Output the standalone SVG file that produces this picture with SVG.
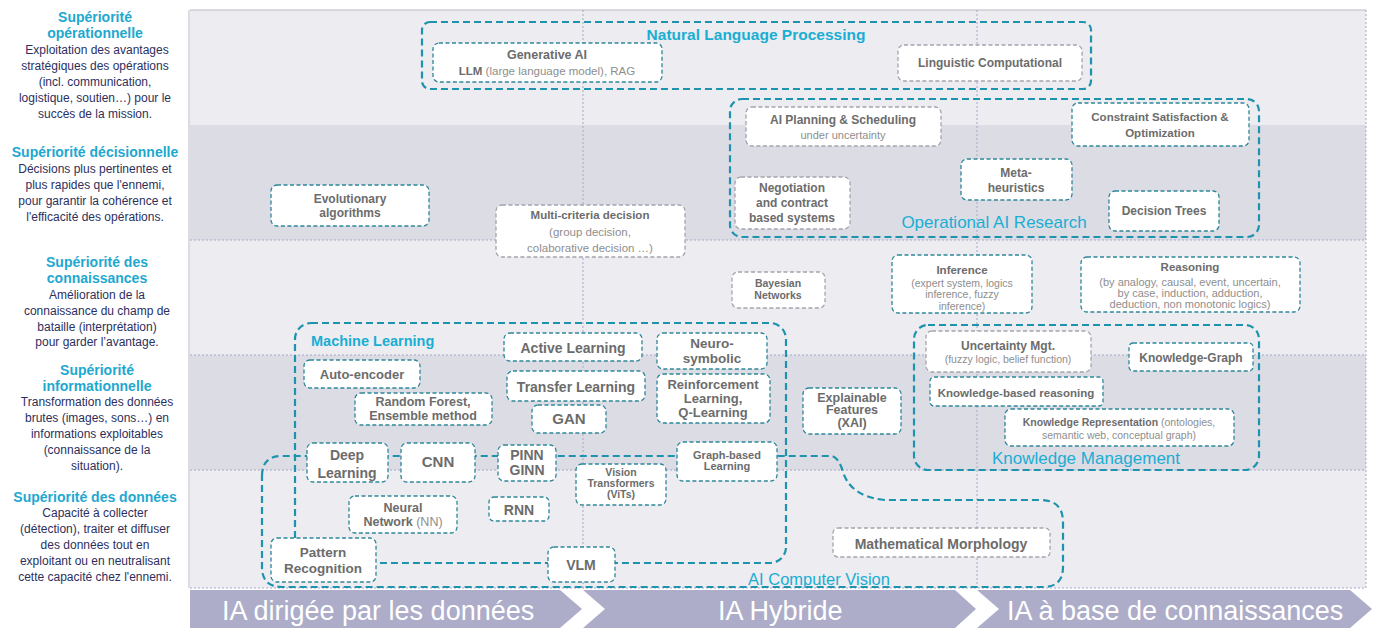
<svg xmlns="http://www.w3.org/2000/svg" width="1375" height="628" viewBox="0 0 1375 628">
<style>
text{font-family:"Liberation Sans",Arial,sans-serif}
.lh{fill:#1ea8cf;font-weight:bold;font-size:14px;text-anchor:middle}
.lb{fill:#2c2f5e;font-size:12px;text-anchor:middle}
.grid{stroke:#a7a7c9;stroke-width:1;stroke-dasharray:2 2;fill:none}
.c{fill:none;stroke:#1d93ad;stroke-width:2.2;stroke-dasharray:7 4}
.b{fill:#fff;stroke:#2e8699;stroke-width:1.3;stroke-dasharray:4 2.5}
.g{fill:#fff;stroke:#a4a4ae;stroke-width:1.3;stroke-dasharray:4 2.5}
.t{fill:#6c6c6c;font-weight:bold;text-anchor:middle}
.s{fill:#8e8e8e;font-weight:normal;text-anchor:middle}
.ct{fill:#1aaed3;text-anchor:middle}
.cts{fill:#1aaed3;text-anchor:start}
.chev{fill:#adadc9}
.ch{fill:#fff;font-size:27px}
</style>
<rect width="1375" height="628" fill="#ffffff"/>
<g id="background">
<rect x="190" y="10" width="1176" height="115" fill="#ececf1"/>
<rect x="190" y="125" width="1176" height="115" fill="#dcdce5"/>
<rect x="190" y="240" width="1176" height="115" fill="#ececf1"/>
<rect x="190" y="355" width="1176" height="115" fill="#dcdce5"/>
<rect x="190" y="470" width="1176" height="118" fill="#ececf1"/>
<line x1="190" y1="10" x2="1366" y2="10" stroke="#b9b9c2" stroke-width="1"/>
<line x1="189" y1="10" x2="189" y2="588" stroke="#b9b9c2" stroke-width="1"/>
<line x1="1366" y1="10" x2="1366" y2="588" class="grid"/>
<line x1="190" y1="240" x2="1366" y2="240" class="grid"/>
<line x1="190" y1="355" x2="1366" y2="355" class="grid"/>
<line x1="190" y1="470" x2="1366" y2="470" class="grid"/>
<line x1="190" y1="588" x2="1366" y2="588" class="grid"/>
<line x1="583" y1="10" x2="583" y2="588" class="grid"/>
<line x1="977" y1="10" x2="977" y2="588" class="grid"/>
</g>
<g id="left-labels">
<text class="lh" x="95" y="22">Supériorité</text>
<text class="lh" x="95" y="38">opérationnelle</text>
<text class="lb" x="97" y="54">Exploitation des avantages</text>
<text class="lb" x="95" y="70">stratégiques des opérations</text>
<text class="lb" x="95" y="86">(incl. communication,</text>
<text class="lb" x="95" y="102">logistique, soutien…) pour le</text>
<text class="lb" x="95" y="118">succès de la mission.</text>
<text class="lh" x="95" y="157">Supériorité décisionnelle</text>
<text class="lb" x="95" y="173">Décisions plus pertinentes et</text>
<text class="lb" x="95" y="189">plus rapides que l'ennemi,</text>
<text class="lb" x="95" y="205">pour garantir la cohérence et</text>
<text class="lb" x="95" y="221">l'efficacité des opérations.</text>
<text class="lh" x="97" y="267">Supériorité des</text>
<text class="lh" x="97" y="283">connaissances</text>
<text class="lb" x="97" y="299">Amélioration de la</text>
<text class="lb" x="97" y="315">connaissance du champ de</text>
<text class="lb" x="97" y="331">bataille (interprétation)</text>
<text class="lb" x="97" y="346">pour garder l’avantage.</text>
<text class="lh" x="97" y="375">Supériorité</text>
<text class="lh" x="97" y="391">informationnelle</text>
<text class="lb" x="97" y="406">Transformation des données</text>
<text class="lb" x="97" y="422">brutes (images, sons…) en</text>
<text class="lb" x="97" y="438">informations exploitables</text>
<text class="lb" x="97" y="454">(connaissance de la</text>
<text class="lb" x="97" y="470">situation).</text>
<text class="lh" x="95" y="502">Supériorité des données</text>
<text class="lb" x="95" y="517">Capacité à collecter</text>
<text class="lb" x="95" y="533">(détection), traiter et diffuser</text>
<text class="lb" x="95" y="549">des données tout en</text>
<text class="lb" x="95" y="565">exploitant ou en neutralisant</text>
<text class="lb" x="95" y="581">cette capacité chez l'ennemi.</text>
</g>
<g id="containers">
<rect id="nlp" class="c" x="422" y="22" width="669" height="67" rx="8"/>
<rect id="oper" class="c" x="730" y="99" width="529" height="138" rx="12"/>
<rect id="km" class="c" x="914" y="325" width="345" height="145" rx="14"/>
<rect id="ml" class="c" x="295" y="323" width="491" height="240" rx="16"/>
<path id="cv" class="c" d="M262,476 Q262,456 282,456 L832,456 Q839,458 843,472 Q851,497 885,500 L1040,500 Q1063,500 1063,522 L1063,567 Q1063,587 1043,587 L282,587 Q262,587 262,567 Z"/>
</g>
<g id="nodes">
<g id="n-genai"><rect class="b" x="433" y="43" width="229" height="39" rx="6"/><text class="t" x="547" y="59" font-size="12.5">Generative AI</text><text class="s" x="547" y="75" font-size="11.5"><tspan font-weight="bold" fill="#6c6c6c">LLM</tspan> (large language model), RAG</text></g>
<g id="n-ling"><rect class="g" x="898" y="45" width="184" height="36" rx="6"/><text class="t" x="990" y="67" font-size="12">Linguistic Computational</text></g>
<g id="n-plan"><rect class="g" x="746" y="107" width="195" height="39" rx="6"/><text class="t" x="843" y="124" font-size="12">AI Planning &amp; Scheduling</text><text class="s" x="843" y="139" font-size="11">under uncertainty</text></g>
<g id="n-csp"><rect class="b" x="1072" y="103" width="177" height="43" rx="6"/><text class="t" x="1160" y="121" font-size="11.5">Constraint Satisfaction &amp;</text><text class="t" x="1160" y="137" font-size="11.5">Optimization</text></g>
<g id="n-meta"><rect class="b" x="961" y="159" width="111" height="41" rx="6"/><text class="t" x="1016" y="177" font-size="12">Meta-</text><text class="t" x="1016" y="192" font-size="12">heuristics</text></g>
<g id="n-nego"><rect class="g" x="735" y="177" width="115" height="52" rx="6"/><text class="t" x="792" y="192" font-size="12">Negotiation</text><text class="t" x="792" y="207" font-size="12">and contract</text><text class="t" x="792" y="222" font-size="12">based systems</text></g>
<g id="n-dtree"><rect class="b" x="1109" y="191" width="110" height="40" rx="6"/><text class="t" x="1164" y="215" font-size="12">Decision Trees</text></g>
<g id="n-evo"><rect class="b" x="271" y="185" width="158" height="41" rx="6"/><text class="t" x="350" y="203" font-size="12">Evolutionary</text><text class="t" x="350" y="217" font-size="12">algorithms</text></g>
<g id="n-mcd"><rect class="g" x="496" y="205" width="189" height="52" rx="6"/><text class="t" x="590" y="219" font-size="11.5">Multi-criteria decision</text><text class="s" x="590" y="236" font-size="11.5">(group decision,</text><text class="s" x="590" y="252" font-size="11.5">colaborative decision …)</text></g>
<g id="n-bayes"><rect class="g" x="732" y="272" width="93" height="36" rx="6"/><text class="t" x="778" y="287" font-size="10.5">Bayesian</text><text class="t" x="778" y="299" font-size="10.5">Networks</text></g>
<g id="n-inf"><rect class="b" x="892" y="255" width="140" height="58" rx="6"/><text class="t" x="962" y="274" font-size="11.5">Inference</text><text class="s" x="962" y="287" font-size="10.5">(expert system, logics</text><text class="s" x="962" y="298" font-size="10.5">inference, fuzzy</text><text class="s" x="962" y="310" font-size="10.5">inference)</text></g>
<g id="n-reas"><rect class="b" x="1081" y="257" width="219" height="55" rx="6"/><text class="t" x="1190" y="271" font-size="11.5">Reasoning</text><text class="s" x="1190" y="286" font-size="11">(by analogy, causal, event, uncertain,</text><text class="s" x="1190" y="297" font-size="11">by case, induction, adduction,</text><text class="s" x="1190" y="308" font-size="11">deduction, non monotonic logics)</text></g>
<g id="n-unc"><rect class="g" x="926" y="331" width="165" height="41" rx="6"/><text class="t" x="1008" y="350" font-size="12">Uncertainty Mgt.</text><text class="s" x="1008" y="363" font-size="10.5">(fuzzy logic, belief function)</text></g>
<g id="n-kg"><rect class="b" x="1129" y="343" width="124" height="28" rx="4"/><text class="t" x="1191" y="362" font-size="12">Knowledge-Graph</text></g>
<g id="n-kbr"><rect class="b" x="930" y="377" width="173" height="29" rx="4"/><text class="t" x="1016" y="397" font-size="11.5">Knowledge-based reasoning</text></g>
<g id="n-krep"><rect class="b" x="1005" y="409" width="229" height="37" rx="6"/><text class="s" x="1119" y="426" font-size="10.5"><tspan font-weight="bold" fill="#6c6c6c">Knowledge Representation</tspan> (ontologies,</text><text class="s" x="1119" y="439" font-size="10.5">semantic web, conceptual graph)</text></g>
<g id="n-xai"><rect class="b" x="803" y="388" width="98" height="46" rx="6"/><text class="t" x="852" y="402" font-size="12.5">Explainable</text><text class="t" x="852" y="414" font-size="12.5">Features</text><text class="t" x="852" y="427" font-size="12.5">(XAI)</text></g>
<g id="n-active"><rect class="b" x="504" y="333" width="138" height="28" rx="6"/><text class="t" x="573" y="353" font-size="14">Active Learning</text></g>
<g id="n-neuro"><rect class="b" x="657" y="333" width="110" height="36" rx="6"/><text class="t" x="712" y="348" font-size="13.5">Neuro-</text><text class="t" x="712" y="363" font-size="13.5">symbolic</text></g>
<g id="n-auto"><rect class="b" x="304" y="360" width="116" height="28" rx="6"/><text class="t" x="362" y="379" font-size="13">Auto-encoder</text></g>
<g id="n-rf"><rect class="b" x="355" y="393" width="137" height="32" rx="6"/><text class="t" x="423" y="406" font-size="12.5">Random Forest,</text><text class="t" x="423" y="420" font-size="12.5">Ensemble method</text></g>
<g id="n-transfer"><rect class="b" x="507" y="371" width="138" height="30" rx="6"/><text class="t" x="576" y="392" font-size="14">Transfer Learning</text></g>
<g id="n-gan"><rect class="b" x="532" y="405" width="74" height="28" rx="6"/><text class="t" x="569" y="424" font-size="15">GAN</text></g>
<g id="n-rl"><rect class="b" x="657" y="374" width="113" height="49" rx="6"/><text class="t" x="713" y="389" font-size="13">Reinforcement</text><text class="t" x="713" y="403" font-size="13">Learning,</text><text class="t" x="713" y="417" font-size="13">Q-Learning</text></g>
<g id="n-graph"><rect class="b" x="677" y="442" width="100" height="39" rx="6"/><text class="t" x="727" y="459" font-size="11">Graph-based</text><text class="t" x="727" y="470" font-size="11">Learning</text></g>
<g id="n-deep"><rect class="b" x="307" y="443" width="81" height="39" rx="6"/><text class="t" x="347" y="460" font-size="14">Deep</text><text class="t" x="347" y="478" font-size="14">Learning</text></g>
<g id="n-cnn"><rect class="b" x="401" y="443" width="74" height="39" rx="6"/><text class="t" x="438" y="467" font-size="15">CNN</text></g>
<g id="n-pinn"><rect class="b" x="498" y="445" width="58" height="36" rx="6"/><text class="t" x="527" y="460" font-size="14">PINN</text><text class="t" x="527" y="475" font-size="14">GINN</text></g>
<g id="n-vit"><rect class="b" x="576" y="464" width="90" height="41" rx="6"/><text class="t" x="621" y="476" font-size="10.5">Vision</text><text class="t" x="621" y="487" font-size="10.5">Transformers</text><text class="t" x="621" y="498" font-size="10.5">(ViTs)</text></g>
<g id="n-nn"><rect class="b" x="349" y="496" width="108" height="37" rx="6"/><text class="t" x="403" y="512" font-size="12.5">Neural</text><text class="t" x="403" y="526" font-size="12.5">Network <tspan font-weight="normal" fill="#8e8e8e">(NN)</tspan></text></g>
<g id="n-rnn"><rect class="b" x="489" y="497" width="60" height="24" rx="5"/><text class="t" x="519" y="515" font-size="14">RNN</text></g>
<g id="n-pattern"><rect class="b" x="271" y="538" width="105" height="44" rx="6"/><text class="t" x="323" y="557" font-size="13.5">Pattern</text><text class="t" x="323" y="573" font-size="13.5">Recognition</text></g>
<g id="n-vlm"><rect class="b" x="548" y="547" width="67" height="35" rx="6"/><text class="t" x="581" y="570" font-size="14">VLM</text></g>
<g id="n-morph"><rect class="g" x="833" y="528" width="217" height="29" rx="5" stroke="#8fb3bd"/><text class="t" x="941" y="549" font-size="14">Mathematical Morphology</text></g>
</g>
<g id="container-titles">
<text class="ct" x="756" y="40" font-size="15.5" font-weight="bold">Natural Language Processing</text>
<text class="ct" x="994" y="228" font-size="17">Operational AI Research</text>
<text class="ct" x="1086" y="464" font-size="17">Knowledge Management</text>
<text class="cts" x="311" y="346" font-size="14.5" font-weight="bold">Machine Learning</text>
<text class="ct" x="819" y="585" font-size="16.5">AI Computer Vision</text>
</g>
<g id="chevrons">
<polygon class="chev" points="190,590 560,590 582,609 560,628 190,628"/>
<polygon class="chev" points="583,590 955,590 976,609 955,628 583,628 605,609"/>
<polygon class="chev" points="977,590 1350,590 1372,609 1350,628 977,628 999,609"/>
<text class="ch" x="222" y="620">IA dirigée par les données</text>
<text class="ch" x="718" y="620">IA Hybride</text>
<text class="ch" x="1007" y="620">IA à base de connaissances</text>
</g>
</svg>
